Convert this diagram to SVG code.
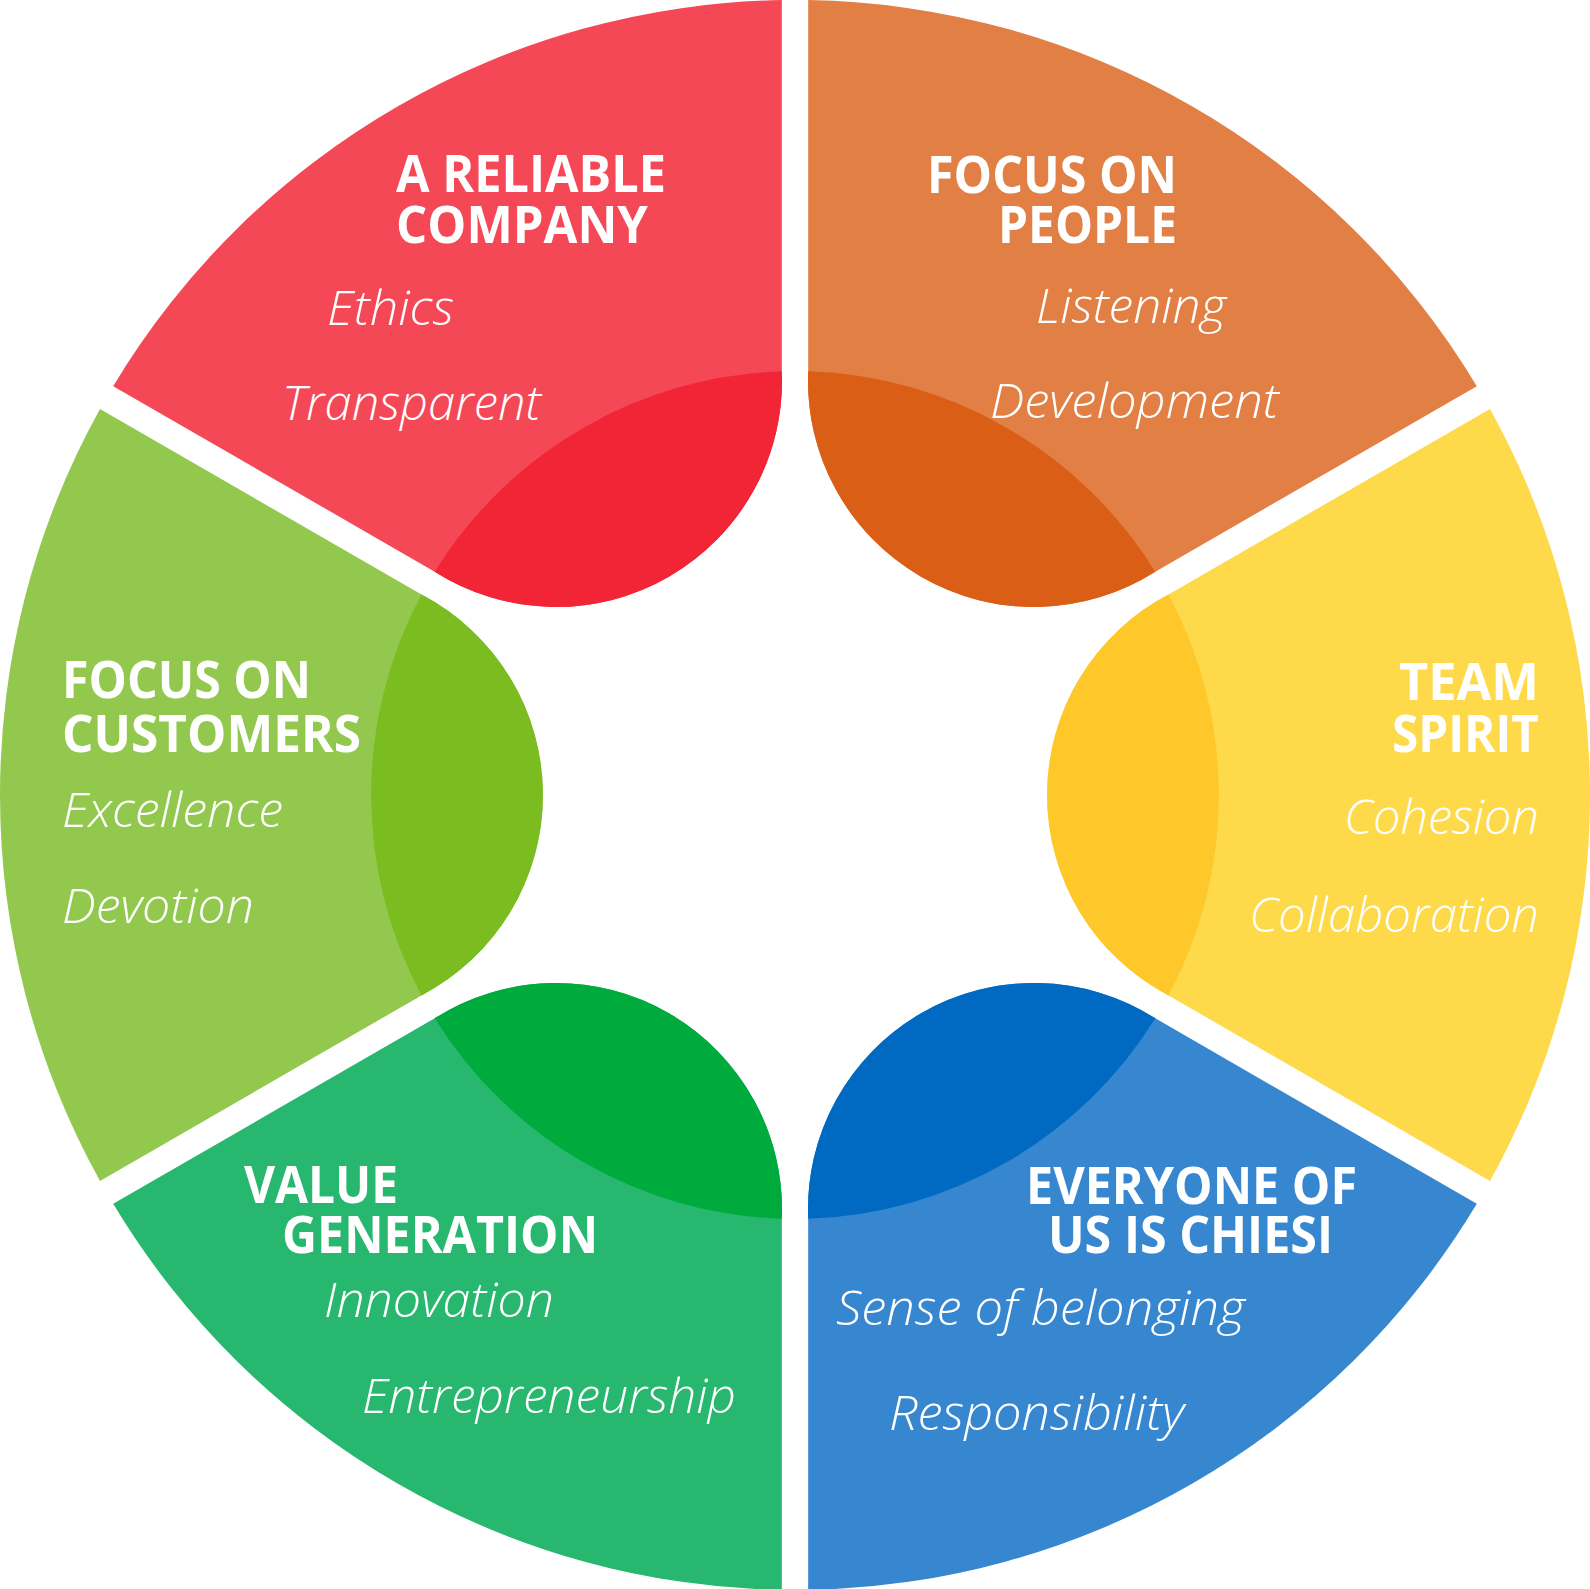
<svg xmlns="http://www.w3.org/2000/svg" width="1590" height="1589" viewBox="0 0 1590 1589">
<style>
.t{font-family:"Open Sans","Liberation Sans",sans-serif;font-weight:700;font-size:52px;fill:#fff}
.v{font-family:"Open Sans","Liberation Sans",sans-serif;font-weight:300;font-style:italic;font-size:47px;fill:#fff}
</style>
<rect width="1590" height="1589" fill="#fff"/>
<g id="connectors"/>
<g id="reliable-company">
<path fill="#F44857" d="M113.20 386.13 A795 795 0 0 1 781.82 0.11 L781.82 371.34 A226.1 226.1 0 0 1 434.69 571.75 Z"/>
<path fill="#F22536" d="M781.82 371.34 A226.1 226.1 0 0 1 434.69 571.75 A423.86 423.86 0 0 1 781.82 371.34 Z"/>
<text class="t" x="396" y="191.5" textLength="270" lengthAdjust="spacingAndGlyphs">A RELIABLE</text>
<text class="t" x="396" y="243" textLength="252" lengthAdjust="spacingAndGlyphs">COMPANY</text>
<text class="v" x="327" y="325" textLength="127" lengthAdjust="spacingAndGlyphs">Ethics</text>
<text class="v" x="282" y="420" textLength="259" lengthAdjust="spacingAndGlyphs">Transparent</text>
</g>
<g id="focus-on-people">
<path fill="#E17F45" d="M808.18 0.11 A795 795 0 0 1 1476.80 386.13 L1155.30 571.75 A226.1 226.1 0 0 1 808.18 371.34 Z"/>
<path fill="#DB5E16" d="M1155.30 571.75 A226.1 226.1 0 0 1 808.18 371.34 A423.86 423.86 0 0 1 1155.30 571.75 Z"/>
<text class="t" x="927" y="192.7" textLength="250" lengthAdjust="spacingAndGlyphs">FOCUS ON</text>
<text class="t" x="998" y="243.3" textLength="179" lengthAdjust="spacingAndGlyphs">PEOPLE</text>
<text class="v" x="1036" y="322.7" textLength="190" lengthAdjust="spacingAndGlyphs">Listening</text>
<text class="v" x="990" y="418.3" textLength="289" lengthAdjust="spacingAndGlyphs">Development</text>
</g>
<g id="team-spirit">
<path fill="#FEDA4A" d="M1489.99 408.97 A795 795 0 0 1 1489.99 1181.03 L1168.49 995.41 A226.1 226.1 0 0 1 1168.49 594.59 Z"/>
<path fill="#FEC72A" d="M1168.49 995.41 A226.1 226.1 0 0 1 1168.49 594.59 A423.86 423.86 0 0 1 1168.49 995.41 Z"/>
<text class="t" x="1399" y="700" textLength="140" lengthAdjust="spacingAndGlyphs">TEAM</text>
<text class="t" x="1392" y="751.7" textLength="147" lengthAdjust="spacingAndGlyphs">SPIRIT</text>
<text class="v" x="1344" y="834.3" textLength="195" lengthAdjust="spacingAndGlyphs">Cohesion</text>
<text class="v" x="1249" y="931.7" textLength="290" lengthAdjust="spacingAndGlyphs">Collaboration</text>
</g>
<g id="everyone-of-us-is-chiesi">
<path fill="#3686D0" d="M1476.80 1203.87 A795 795 0 0 1 808.18 1589.89 L808.18 1218.66 A226.1 226.1 0 0 1 1155.30 1018.25 Z"/>
<path fill="#0069C2" d="M808.18 1218.66 A226.1 226.1 0 0 1 1155.30 1018.25 A423.86 423.86 0 0 1 808.18 1218.66 Z"/>
<text class="t" x="1026" y="1204" textLength="331" lengthAdjust="spacingAndGlyphs">EVERYONE OF</text>
<text class="t" x="1048" y="1252.5" textLength="285" lengthAdjust="spacingAndGlyphs">US IS CHIESI</text>
<text class="v" x="836" y="1325" textLength="409" lengthAdjust="spacingAndGlyphs">Sense of belonging</text>
<text class="v" x="889" y="1430" textLength="295" lengthAdjust="spacingAndGlyphs">Responsibility</text>
</g>
<g id="value-generation">
<path fill="#27B76E" d="M781.82 1589.89 A795 795 0 0 1 113.20 1203.87 L434.69 1018.25 A226.1 226.1 0 0 1 781.82 1218.66 Z"/>
<path fill="#00AB3E" d="M434.69 1018.25 A226.1 226.1 0 0 1 781.82 1218.66 A423.86 423.86 0 0 1 434.69 1018.25 Z"/>
<text class="t" x="244" y="1202.7" textLength="154" lengthAdjust="spacingAndGlyphs">VALUE</text>
<text class="t" x="282" y="1253.3" textLength="316" lengthAdjust="spacingAndGlyphs">GENERATION</text>
<text class="v" x="324" y="1316.7" textLength="230" lengthAdjust="spacingAndGlyphs">Innovation</text>
<text class="v" x="362" y="1413.3" textLength="374" lengthAdjust="spacingAndGlyphs">Entrepreneurship</text>
</g>
<g id="focus-on-customers">
<path fill="#93C84F" d="M100.01 1181.03 A795 795 0 0 1 100.01 408.97 L421.51 594.59 A226.1 226.1 0 0 1 421.51 995.41 Z"/>
<path fill="#7BBC21" d="M421.51 594.59 A226.1 226.1 0 0 1 421.51 995.41 A423.86 423.86 0 0 1 421.51 594.59 Z"/>
<text class="t" x="62" y="698" textLength="249" lengthAdjust="spacingAndGlyphs">FOCUS ON</text>
<text class="t" x="62" y="751.7" textLength="299" lengthAdjust="spacingAndGlyphs">CUSTOMERS</text>
<text class="v" x="62" y="826.7" textLength="221" lengthAdjust="spacingAndGlyphs">Excellence</text>
<text class="v" x="62" y="923" textLength="192" lengthAdjust="spacingAndGlyphs">Devotion</text>
</g>
</svg>
